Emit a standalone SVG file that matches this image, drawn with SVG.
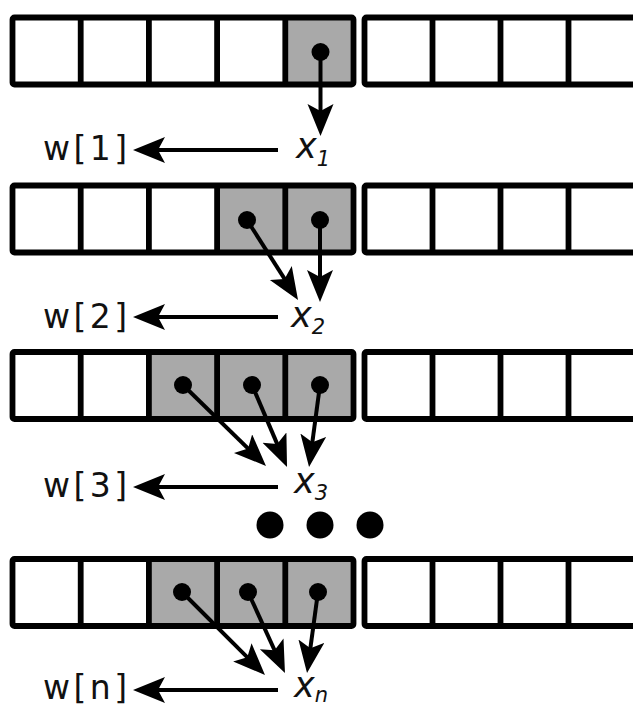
<svg xmlns="http://www.w3.org/2000/svg" xmlns:xlink="http://www.w3.org/1999/xlink" width="633" height="707" viewBox="0 0 633 707">
  <style>
    .cell { fill: none; stroke: #000; stroke-width: 5.8; stroke-linejoin: round; }
    .div { stroke: #000; stroke-width: 5.8; }
    .shade { fill: #a9a9a9; }
    .dot { fill: #000; }
    .conn { stroke: #000; stroke-width: 4; fill: none; marker-end: url(#ah); }
    .lbl { font-family: "DejaVu Sans", Verdana, sans-serif; font-size: 33px; fill: #111; }
    .var { font-family: "DejaVu Sans", Verdana, sans-serif; font-size: 35px; font-style: italic; fill: #111; }
    .sub { font-size: 21px; }
  </style>
  <defs>
    <marker id="ah" markerUnits="userSpaceOnUse" markerWidth="34" markerHeight="28" refX="21" refY="13" orient="auto">
      <path d="M0,0 L32,13 L0,26 L7,13 Z" fill="#000"/>
    </marker>
    <!-- one strip of the buffer: a block of five cells, then a block running off the right edge -->
    <g id="strip">
      <rect class="cell" x="12.5" y="0" width="341" height="67" rx="2"/>
      <line class="div" x1="80.7" y1="0" x2="80.7" y2="67"/>
      <line class="div" x1="148.9" y1="0" x2="148.9" y2="67"/>
      <line class="div" x1="217.1" y1="0" x2="217.1" y2="67"/>
      <line class="div" x1="285.3" y1="0" x2="285.3" y2="67"/>
      <rect class="cell" x="364.5" y="0" width="272" height="67" rx="2"/>
      <line class="div" x1="432.5" y1="0" x2="432.5" y2="67"/>
      <line class="div" x1="500.5" y1="0" x2="500.5" y2="67"/>
      <line class="div" x1="568.5" y1="0" x2="568.5" y2="67"/>
    </g>
  </defs>

  <rect width="633" height="707" fill="#fff"/>

  <!-- strip 1: one active cell -->
  <g id="row1" transform="translate(0,17.5)">
    <rect class="shade" x="285.3" y="0" width="68.2" height="67"/>
    <use xlink:href="#strip" href="#strip"/>
    <circle class="dot" cx="320.5" cy="34.5" r="9"/>
  </g>

  <!-- strip 2: two active cells -->
  <g id="row2" transform="translate(0,185.5)">
    <rect class="shade" x="217.1" y="0" width="136.4" height="67"/>
    <use xlink:href="#strip" href="#strip"/>
    <circle class="dot" cx="247" cy="34.5" r="9"/>
    <circle class="dot" cx="320" cy="34.5" r="9"/>
  </g>

  <!-- strip 3: three active cells -->
  <g id="row3" transform="translate(0,352)">
    <rect class="shade" x="148.9" y="0" width="204.6" height="67"/>
    <use xlink:href="#strip" href="#strip"/>
    <circle class="dot" cx="183" cy="33" r="9"/>
    <circle class="dot" cx="252" cy="33" r="9"/>
    <circle class="dot" cx="320" cy="33" r="9"/>
  </g>

  <!-- ellipsis between strips -->
  <g id="ellipsis">
    <circle class="dot" cx="270" cy="525" r="13.5"/>
    <circle class="dot" cx="320" cy="525" r="13.5"/>
    <circle class="dot" cx="370" cy="525" r="13.5"/>
  </g>

  <!-- strip n: three active cells -->
  <g id="row4" transform="translate(0,559)">
    <rect class="shade" x="148.9" y="0" width="204.6" height="67"/>
    <use xlink:href="#strip" href="#strip"/>
    <circle class="dot" cx="182" cy="33" r="9"/>
    <circle class="dot" cx="248" cy="33" r="9"/>
    <circle class="dot" cx="318" cy="33" r="9"/>
  </g>

  <!-- sums x_k -->
  <g id="x1"><text class="var" x="296" y="158">x<tspan class="sub" dy="8">1</tspan></text></g>
  <g id="x2"><text class="var" x="291" y="327">x<tspan class="sub" dy="7">2</tspan></text></g>
  <g id="x3"><text class="var" x="294" y="493">x<tspan class="sub" dy="7">3</tspan></text></g>
  <g id="xn"><text class="var" x="294" y="697">x<tspan class="sub" dy="5">n</tspan></text></g>

  <!-- output words -->
  <g id="w1"><text class="lbl" x="43" y="160" textLength="84" lengthAdjust="spacing">w[1]</text></g>
  <g id="w2"><text class="lbl" x="43" y="328" textLength="84" lengthAdjust="spacing">w[2]</text></g>
  <g id="w3"><text class="lbl" x="43" y="497" textLength="84" lengthAdjust="spacing">w[3]</text></g>
  <g id="wn"><text class="lbl" x="43" y="699" textLength="84" lengthAdjust="spacing">w[n]</text></g>

  <g id="connectors">
    <!-- cells into x_1 -->
    <line class="conn" x1="320.5" y1="52" x2="320.5" y2="125"/>
    <!-- cells into x_2 -->
    <line class="conn" x1="247" y1="220" x2="292.1" y2="290.7"/>
    <line class="conn" x1="320" y1="220" x2="320" y2="291"/>
    <!-- cells into x_3 -->
    <line class="conn" x1="183" y1="385" x2="258.1" y2="458.3"/>
    <line class="conn" x1="252" y1="385" x2="282.7" y2="456.9"/>
    <line class="conn" x1="320" y1="385" x2="310.5" y2="456.1"/>
    <!-- cells into x_n -->
    <line class="conn" x1="182" y1="592" x2="257.2" y2="667.2"/>
    <line class="conn" x1="248" y1="592" x2="280.4" y2="663"/>
    <line class="conn" x1="318" y1="592" x2="308.5" y2="662.1"/>
    <!-- x_k out to w[k] -->
    <line class="conn" x1="278" y1="150" x2="144" y2="150"/>
    <line class="conn" x1="278" y1="317" x2="144" y2="317"/>
    <line class="conn" x1="278" y1="487" x2="144" y2="487"/>
    <line class="conn" x1="278" y1="690" x2="144" y2="690"/>
  </g>
</svg>
